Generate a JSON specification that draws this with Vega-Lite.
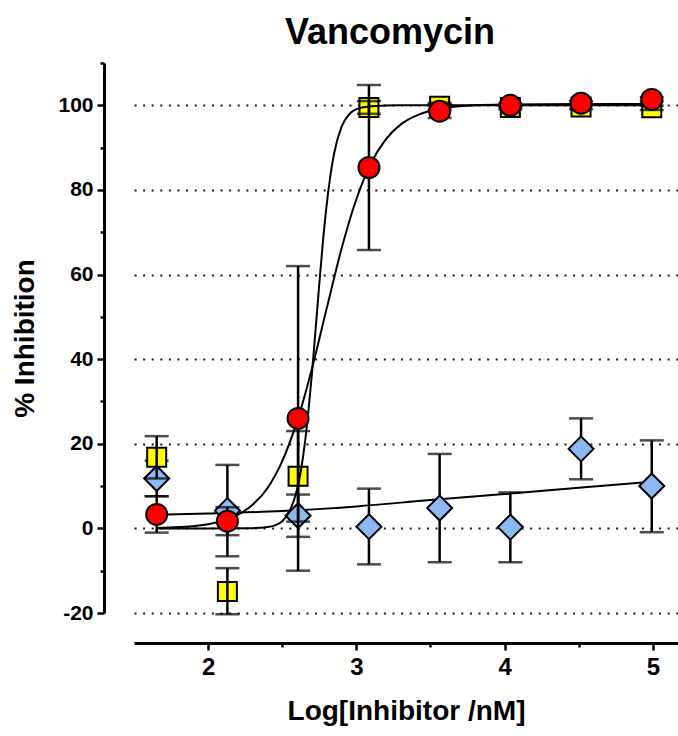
{
  "$schema": "https://vega.github.io/schema/vega-lite/v6.json",
  "width": 544,
  "height": 550,
  "autosize": "none",
  "padding": {"left": 134, "top": 63, "right": 0, "bottom": 123},
  "background": "white",
  "config": {"view": {"stroke": null}, "font": "Liberation Sans"},
  "title": {"text": "Vancomycin", "font": "Liberation Sans", "fontSize": 36, "fontWeight": "bold", "color": "black", "offset": 10, "dx": -16},
  "datasets": {
    "pts": [
      {"series": "Blue", "x": 1.653, "y": 11.8, "lo": 7.6, "hi": 16.0},
      {"series": "Blue", "x": 2.130, "y": 4.2, "lo": -6.6, "hi": 15.0},
      {"series": "Blue", "x": 2.607, "y": 3.0, "lo": -2.0, "hi": 8.0},
      {"series": "Blue", "x": 3.085, "y": 0.4, "lo": -8.5, "hi": 9.4},
      {"series": "Blue", "x": 3.562, "y": 4.8, "lo": -8.0, "hi": 17.6},
      {"series": "Blue", "x": 4.039, "y": 0.3, "lo": -8.0, "hi": 8.5},
      {"series": "Blue", "x": 4.516, "y": 18.8, "lo": 11.6, "hi": 26.0},
      {"series": "Blue", "x": 4.993, "y": 10.0, "lo": -0.9, "hi": 20.8},
      {"series": "Yellow", "x": 1.653, "y": 16.8, "lo": 11.8, "hi": 21.8},
      {"series": "Yellow", "x": 2.130, "y": -14.9, "lo": -20.3, "hi": -9.4},
      {"series": "Yellow", "x": 2.607, "y": 12.3, "lo": 1.6, "hi": 23.0},
      {"series": "Yellow", "x": 3.085, "y": 99.5, "lo": 98.0, "hi": 101.0},
      {"series": "Yellow", "x": 3.562, "y": 99.8, "lo": 99.0, "hi": 100.6},
      {"series": "Yellow", "x": 4.039, "y": 99.5, "lo": 99.0, "hi": 100.0},
      {"series": "Yellow", "x": 4.516, "y": 99.6, "lo": 99.1, "hi": 100.1},
      {"series": "Yellow", "x": 4.993, "y": 99.4, "lo": 98.9, "hi": 99.9},
      {"series": "Red", "x": 1.653, "y": 3.3, "lo": -1.0, "hi": 7.6},
      {"series": "Red", "x": 2.130, "y": 1.7, "lo": -1.6, "hi": 5.0},
      {"series": "Red", "x": 2.607, "y": 26.0, "lo": -10.0, "hi": 62.0},
      {"series": "Red", "x": 3.085, "y": 85.3, "lo": 65.8, "hi": 104.8},
      {"series": "Red", "x": 3.562, "y": 98.6, "lo": 97.0, "hi": 100.2},
      {"series": "Red", "x": 4.039, "y": 100.0, "lo": 99.5, "hi": 100.5},
      {"series": "Red", "x": 4.516, "y": 100.5, "lo": 100.0, "hi": 101.0},
      {"series": "Red", "x": 4.993, "y": 101.4, "lo": 100.9, "hi": 101.9}
    ],
    "fit": [
      {"series": "Blue", "x": 1.653, "y": 3.2},
      {"series": "Blue", "x": 2.0, "y": 3.5},
      {"series": "Blue", "x": 2.5, "y": 4.1},
      {"series": "Blue", "x": 3.0, "y": 5.2},
      {"series": "Blue", "x": 3.5, "y": 6.7},
      {"series": "Blue", "x": 4.0, "y": 8.1},
      {"series": "Blue", "x": 4.5, "y": 9.6},
      {"series": "Blue", "x": 4.993, "y": 11.0},
      {"series": "Yellow", "x": 1.653, "y": 0.0},
      {"series": "Yellow", "x": 2.0, "y": 0.0},
      {"series": "Yellow", "x": 2.3, "y": 0.06},
      {"series": "Yellow", "x": 2.4, "y": 0.3},
      {"series": "Yellow", "x": 2.45, "y": 0.7},
      {"series": "Yellow", "x": 2.5, "y": 1.7},
      {"series": "Yellow", "x": 2.55, "y": 4.1},
      {"series": "Yellow", "x": 2.6, "y": 9.2},
      {"series": "Yellow", "x": 2.625, "y": 13.5},
      {"series": "Yellow", "x": 2.65, "y": 19.4},
      {"series": "Yellow", "x": 2.675, "y": 27.1},
      {"series": "Yellow", "x": 2.7, "y": 36.4},
      {"series": "Yellow", "x": 2.725, "y": 47.0},
      {"series": "Yellow", "x": 2.75, "y": 57.8},
      {"series": "Yellow", "x": 2.775, "y": 67.9},
      {"series": "Yellow", "x": 2.8, "y": 76.5},
      {"series": "Yellow", "x": 2.825, "y": 83.4},
      {"series": "Yellow", "x": 2.85, "y": 88.6},
      {"series": "Yellow", "x": 2.9, "y": 94.9},
      {"series": "Yellow", "x": 2.95, "y": 97.8},
      {"series": "Yellow", "x": 3.0, "y": 99.1},
      {"series": "Yellow", "x": 3.1, "y": 99.8},
      {"series": "Yellow", "x": 3.3, "y": 100.0},
      {"series": "Yellow", "x": 4.993, "y": 100.0},
      {"series": "Red", "x": 1.653, "y": 0.1},
      {"series": "Red", "x": 1.8, "y": 0.3},
      {"series": "Red", "x": 2.0, "y": 1.0},
      {"series": "Red", "x": 2.1, "y": 1.8},
      {"series": "Red", "x": 2.2, "y": 3.2},
      {"series": "Red", "x": 2.3, "y": 5.6},
      {"series": "Red", "x": 2.4, "y": 9.5},
      {"series": "Red", "x": 2.5, "y": 15.9},
      {"series": "Red", "x": 2.6, "y": 25.3},
      {"series": "Red", "x": 2.7, "y": 37.7},
      {"series": "Red", "x": 2.8, "y": 52.0},
      {"series": "Red", "x": 2.9, "y": 66.1},
      {"series": "Red", "x": 3.0, "y": 77.8},
      {"series": "Red", "x": 3.1, "y": 86.4},
      {"series": "Red", "x": 3.2, "y": 92.0},
      {"series": "Red", "x": 3.3, "y": 95.5},
      {"series": "Red", "x": 3.4, "y": 97.5},
      {"series": "Red", "x": 3.5, "y": 98.7},
      {"series": "Red", "x": 3.6, "y": 99.4},
      {"series": "Red", "x": 3.8, "y": 100.0},
      {"series": "Red", "x": 4.0, "y": 100.2},
      {"series": "Red", "x": 4.5, "y": 100.3},
      {"series": "Red", "x": 4.993, "y": 100.3}
    ]
  },
  "resolve": {"axis": {"x": "independent", "y": "independent"}},
  "layer": [
    {
      "data": {"name": "fit"},
      "transform": [{"filter": "datum.series === 'Blue'"}],
      "mark": {"type": "line", "color": "black", "strokeWidth": 2, "interpolate": "monotone"},
      "encoding": {
        "x": {"field": "x", "type": "quantitative", "scale": {"domain": [1.5, 5.17], "nice": false, "zero": false},
          "axis": {"title": "Log[Inhibitor /nM]", "values": [2, 3, 4, 5], "format": "d", "grid": false, "offset": 30,
            "domainColor": "black", "domainWidth": 3, "tickColor": "black", "tickWidth": 2.5, "tickSize": 7,
            "labelFont": "Liberation Sans", "labelFontWeight": "bold", "labelFontSize": 24, "labelColor": "black", "labelPadding": 5,
            "titleFont": "Liberation Sans", "titleFontSize": 28, "titleFontWeight": "bold", "titleColor": "black", "titlePadding": 18}},
        "y": {"field": "y", "type": "quantitative", "scale": {"domain": [-20, 110], "nice": false, "zero": false},
          "axis": {"title": "% Inhibition", "values": [-20, 0, 20, 40, 60, 80, 100], "labelExpr": "replace(datum.label, '\u2212', '-')",
            "grid": true, "gridDash": [2, 6.6], "gridColor": "#1a1a1a", "gridWidth": 2, "offset": 30,
            "domainColor": "black", "domainWidth": 3, "tickColor": "black", "tickWidth": 2.5, "tickSize": 7,
            "labelFont": "Liberation Sans", "labelFontWeight": "bold", "labelFontSize": 21, "labelColor": "black", "labelPadding": 4,
            "titleFont": "Liberation Sans", "titleFontSize": 28, "titleFontWeight": "bold", "titleColor": "black", "titlePadding": 18}}
      }
    },
    {
      "data": {"name": "pts"},
      "transform": [{"filter": "datum.series === 'Blue'"}],
      "mark": {"type": "rule", "color": "black", "strokeWidth": 2.5},
      "encoding": {
        "x": {"field": "x", "type": "quantitative",
          "axis": {"values": [2.5, 3.5, 4.5], "labels": false, "domain": false, "grid": false, "tickSize": 4, "tickWidth": 2.5, "tickColor": "black", "offset": 30, "title": null, "orient": "bottom"}},
        "y": {"field": "lo", "type": "quantitative",
          "axis": {"values": [-10, 10, 30, 50, 70, 90, 110], "labels": false, "domain": false, "grid": false, "tickSize": 4, "tickWidth": 2.5, "tickColor": "black", "offset": 30, "title": null, "orient": "left"}},
        "y2": {"field": "hi"}
      }
    },
    {
      "data": {"name": "pts"},
      "transform": [{"filter": "datum.series === 'Blue'"}, {"fold": ["lo", "hi"], "as": ["cap", "v"]}],
      "mark": {"type": "tick", "orient": "horizontal", "color": "black", "size": 24, "thickness": 2.5},
      "encoding": {
        "x": {"field": "x", "type": "quantitative", "axis": null},
        "y": {"field": "v", "type": "quantitative", "axis": null}
      }
    },
    {
      "data": {"name": "pts"},
      "transform": [{"filter": "datum.series === 'Blue'"}],
      "mark": {"type": "point", "shape": "diamond", "filled": true, "fill": "#8DB9F2", "stroke": "black", "strokeWidth": 2, "size": 625, "opacity": 1},
      "encoding": {
        "x": {"field": "x", "type": "quantitative", "axis": null},
        "y": {"field": "y", "type": "quantitative", "axis": null}
      }
    },
    {
      "data": {"name": "pts"},
      "transform": [{"filter": "datum.series === 'Yellow'"}],
      "mark": {"type": "point", "shape": "square", "filled": true, "fill": "#FFFF00", "stroke": "black", "strokeWidth": 2, "size": 361, "opacity": 1},
      "encoding": {
        "x": {"field": "x", "type": "quantitative", "axis": null},
        "y": {"field": "y", "type": "quantitative", "axis": null}
      }
    },
    {
      "data": {"name": "pts"},
      "transform": [{"filter": "datum.series === 'Yellow'"}],
      "mark": {"type": "rule", "color": "black", "strokeWidth": 2.5},
      "encoding": {
        "x": {"field": "x", "type": "quantitative", "axis": null},
        "y": {"field": "lo", "type": "quantitative", "axis": null},
        "y2": {"field": "hi"}
      }
    },
    {
      "data": {"name": "pts"},
      "transform": [{"filter": "datum.series === 'Yellow'"}, {"fold": ["lo", "hi"], "as": ["cap", "v"]}],
      "mark": {"type": "tick", "orient": "horizontal", "color": "black", "size": 24, "thickness": 2.5},
      "encoding": {
        "x": {"field": "x", "type": "quantitative", "axis": null},
        "y": {"field": "v", "type": "quantitative", "axis": null}
      }
    },
    {
      "data": {"name": "fit"},
      "transform": [{"filter": "datum.series !== 'Blue'"}],
      "mark": {"type": "line", "color": "black", "strokeWidth": 2, "interpolate": "monotone"},
      "encoding": {
        "x": {"field": "x", "type": "quantitative", "axis": null},
        "y": {"field": "y", "type": "quantitative", "axis": null},
        "detail": {"field": "series"}
      }
    },
    {
      "data": {"name": "pts"},
      "transform": [{"filter": "datum.series === 'Red'"}],
      "mark": {"type": "rule", "color": "black", "strokeWidth": 2.5},
      "encoding": {
        "x": {"field": "x", "type": "quantitative", "axis": null},
        "y": {"field": "lo", "type": "quantitative", "axis": null},
        "y2": {"field": "hi"}
      }
    },
    {
      "data": {"name": "pts"},
      "transform": [{"filter": "datum.series === 'Red'"}, {"fold": ["lo", "hi"], "as": ["cap", "v"]}],
      "mark": {"type": "tick", "orient": "horizontal", "color": "black", "size": 24, "thickness": 2.5},
      "encoding": {
        "x": {"field": "x", "type": "quantitative", "axis": null},
        "y": {"field": "v", "type": "quantitative", "axis": null}
      }
    },
    {
      "data": {"name": "pts"},
      "transform": [{"filter": "datum.series === 'Red'"}],
      "mark": {"type": "point", "shape": "circle", "filled": true, "fill": "#FF0000", "stroke": "black", "strokeWidth": 2, "size": 441, "opacity": 1},
      "encoding": {
        "x": {"field": "x", "type": "quantitative", "axis": null},
        "y": {"field": "y", "type": "quantitative", "axis": null}
      }
    }
  ]
}
